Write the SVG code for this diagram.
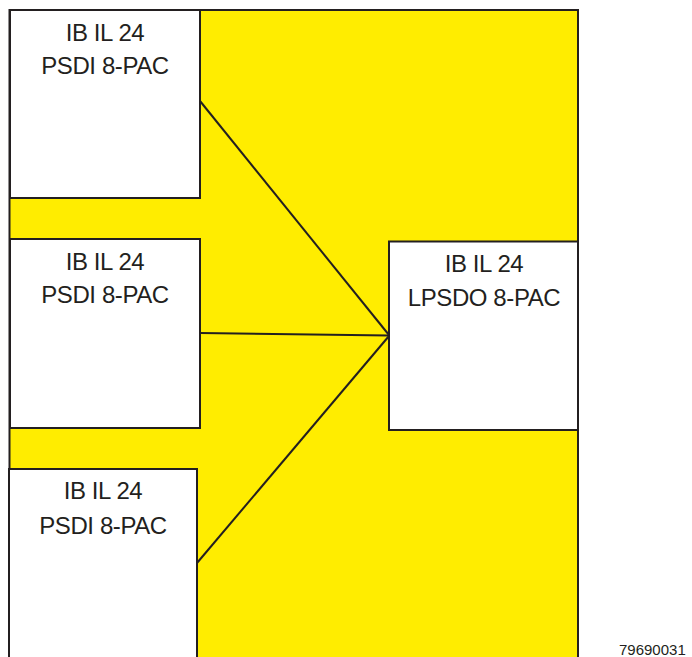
<svg xmlns="http://www.w3.org/2000/svg" width="692" height="657" viewBox="0 0 692 657">
<style>
.bg{fill:#FFED00;stroke:#231F20;stroke-width:2}
.box{fill:#FFFFFF;stroke:#231F20;stroke-width:2}
.lbl{font-family:"Liberation Sans",Arial,sans-serif;font-size:24px;fill:#231F20;text-anchor:middle;letter-spacing:-0.4px}
.con{stroke:#231F20;stroke-width:2;fill:none}
.note{font-family:"Liberation Sans",Arial,sans-serif;font-size:15px;fill:#231F20}
</style>
<rect class="bg" x="9.5" y="10" width="568.5" height="660"/>
<g id="connectors">
<line class="con" x1="200" y1="101" x2="389" y2="335"/>
<line class="con" x1="200" y1="333" x2="389" y2="335.5"/>
<line class="con" x1="197" y1="563" x2="389" y2="336"/>
</g>
<g id="node1">
<rect class="box" x="10" y="10" width="190" height="188"/>
<text class="lbl" x="105" y="40.5">IB IL 24</text>
<text class="lbl" x="105" y="74">PSDI 8-PAC</text>
</g>
<g id="node2">
<rect class="box" x="10" y="239" width="190" height="189"/>
<text class="lbl" x="105" y="270">IB IL 24</text>
<text class="lbl" x="105" y="303">PSDI 8-PAC</text>
</g>
<g id="node3">
<rect class="box" x="9" y="469" width="188" height="200"/>
<text class="lbl" x="103" y="499">IB IL 24</text>
<text class="lbl" x="103" y="533.5">PSDI 8-PAC</text>
</g>
<g id="node4">
<rect class="box" x="389" y="241.5" width="189" height="188.5"/>
<text class="lbl" x="484" y="272">IB IL 24</text>
<text class="lbl" x="484" y="306">LPSDO 8-PAC</text>
</g>
<text class="note" x="619" y="655">79690031</text>
</svg>
